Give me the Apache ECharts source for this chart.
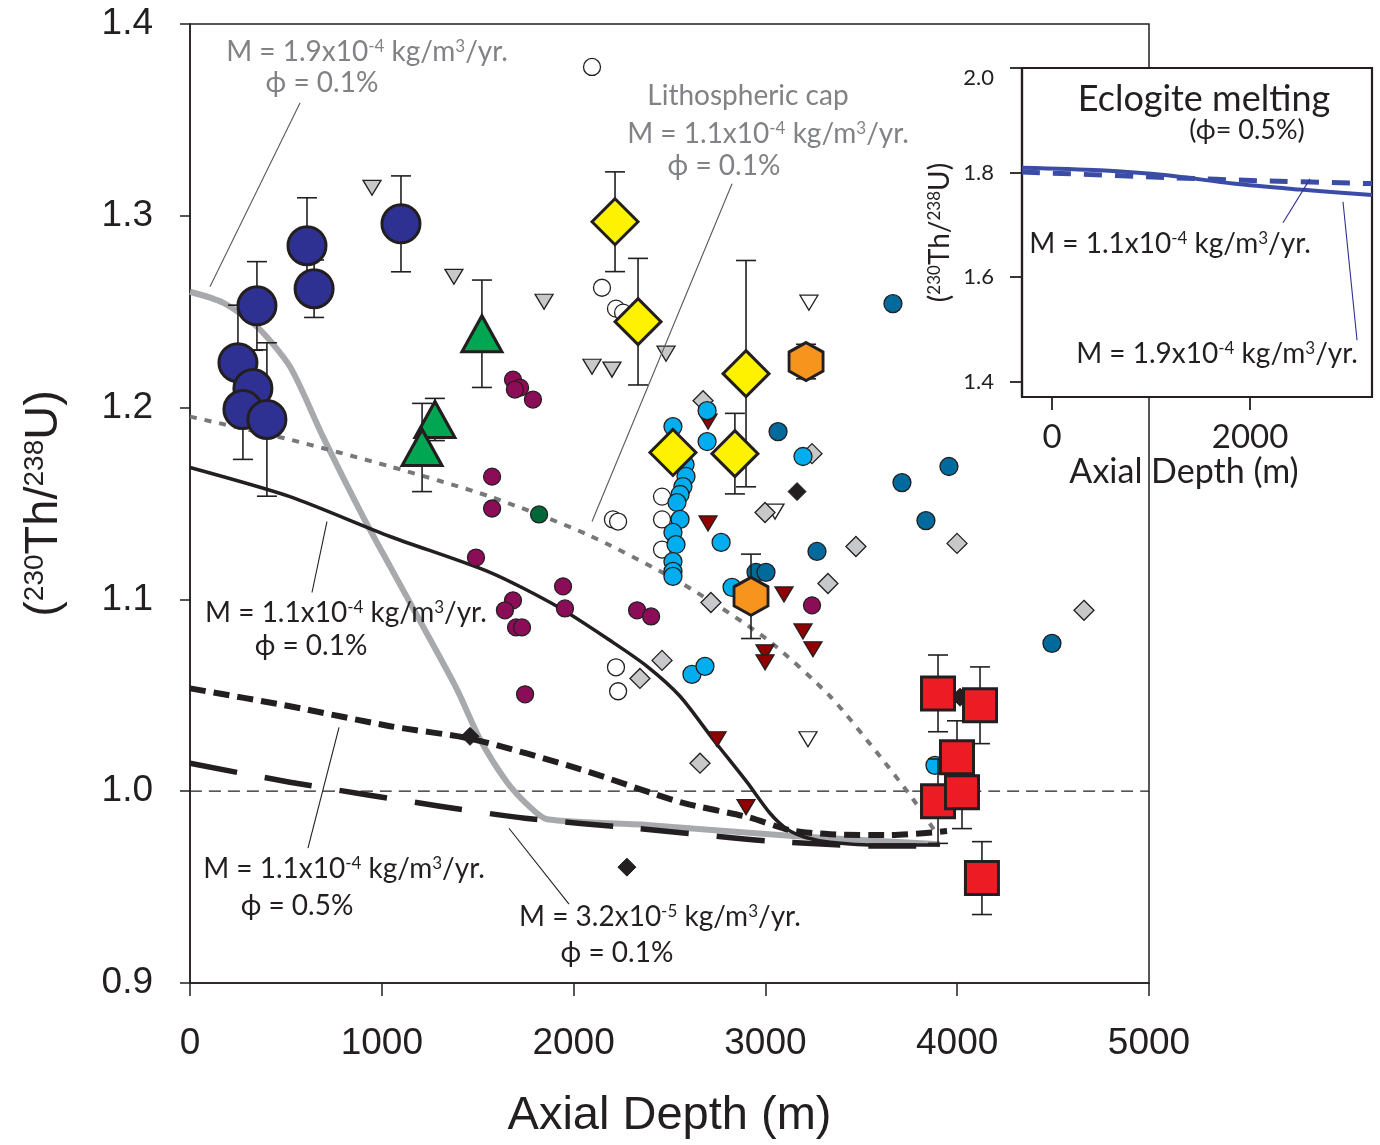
<!DOCTYPE html>
<html><head><meta charset="utf-8">
<script src="https://cdn.jsdelivr.net/npm/echarts@6/dist/echarts.min.js"></script>
<style>html,body{margin:0;padding:0;background:#fff}#c{width:1380px;height:1145px}</style>
</head><body><div id="c"></div>
<script>
// ---------- DATA ----------
const xTicksMain = [0, 1000, 2000, 3000, 4000, 5000];
const yTicksMain = [0.9, 1.0, 1.1, 1.2, 1.3, 1.4];
const xTicksInset = [0, 2000];
const yTicksInset = [1.4, 1.6, 1.8, 2.0];

// model curves [depth, ratio]
const curveM19p1 = [[0,1.2604],[172,1.2547],[349,1.2422],[521,1.2214],[693,1.1849],[902,1.1432],[1043,1.1172],[1215,1.0859],[1392,1.0531],[1512,1.0271],[1653,1.0047],[1773,0.9917],[1861,0.9854],[2398,0.9823],[3144,0.9766],[3910,0.9724]];
const curveLithCap = [[0,1.1953],[521,1.1833],[1043,1.1693],[1564,1.1536],[2070,1.1339],[2555,1.1089],[3008,1.0792],[3337,1.0495],[3597,1.0182],[3770,0.9958],[3884,0.9792]];
const curveM11p1 = [[0,1.1688],[521,1.1536],[1043,1.1328],[1564,1.1141],[1913,1.0964],[2205,1.0776],[2383,1.0651],[2555,1.0495],[2727,1.0271],[2904,1.0047],[3024,0.9885],[3113,0.9802],[3206,0.9760],[3337,0.9734],[3608,0.9719],[3910,0.9719]];
const curveM11p5 = [[0,1.0536],[521,1.0443],[1043,1.0339],[1475,1.0271],[2033,1.0115],[2555,0.9943],[2909,0.9865],[3128,0.9797],[3337,0.9776],[3650,0.9771],[3947,0.9792]];
const curveM32p1 = [[0,1.0146],[521,1.0047],[1303,0.9922],[1747,0.9859],[2325,0.9807],[3024,0.9740],[3608,0.9714],[3910,0.9714]];
const refLine = [[0,1.0],[5000,1.0]];

// inset curves
const insetSolid = [[-303,1.8095],[485,1.8046],[1162,1.7950],[1828,1.7790],[2505,1.7676],[3232,1.7570]];
const insetDashed = [[-303,1.8013],[1162,1.7905],[2150,1.7842],[3232,1.7790]];

// samples with errors [depth, ratio, err]
const blueCircles = [[349,1.2531,0.023],[610,1.2844,0.025],[647,1.2620,0.015],[1100,1.2958,0.025],[250,1.2234,0.030],[328,1.2099,0.020],[276,1.1990,0.026],[401,1.1938,0.040]];
const greenTriangles = [[1522,1.2385,0.028],[1277,1.1938,0.011],[1210,1.1792,0.023]];
const yellowDiamonds = [[2216,1.2969,0.026],[2336,1.2448,0.033],[2899,1.2177,0.059],[2518,1.1766,0],[2841,1.1760,0.021]];
const orangeHexagons = [[3212,1.2240,0.009],[2925,1.1016,0.022]];
const redSquares = [[3900,1.0510,0.020],[4119,1.0448,0.020],[3999,1.0177,0.019],[3900,0.9948,0.022],[4025,0.9995,0.019],[4129,0.9547,0.019]];

// small samples [depth, ratio]
const openCircles = [[2096,1.3776],[2148,1.2625],[2221,1.2516],[2258,1.2495],[2205,1.1417],[2232,1.1406],[2461,1.1536],[2461,1.1417],[2461,1.1260],[2221,1.0646],[2232,1.0521]];
const greyInvTriangles = [[949,1.3146],[1376,1.2682],[1846,1.2552],[2096,1.2213],[2200,1.2198],[2482,1.2281]];
const openInvTriangles = [[3227,1.2547],[3050,1.1458],[3222,1.0271]];
const greyDiamonds = [[2675,1.2036],[3243,1.1760],[2998,1.1453],[3472,1.1276],[3999,1.1292],[3326,1.1083],[2716,1.0984],[2461,1.0682],[2346,1.0588],[2659,1.0146],[4661,1.0943]];
const redInvTriangles = [[2701,1.1927],[2701,1.1396],[3097,1.1026],[3196,1.0833],[3248,1.0740],[2998,1.0724],[2998,1.0672],[2748,1.0271],[2899,0.9917]];
const purpleCircles = [[1684,1.2146],[1721,1.2104],[1694,1.2094],[1788,1.2042],[1575,1.1640],[1575,1.1474],[1491,1.1218],[1945,1.1068],[1955,1.0953],[1684,1.0995],[1642,1.0943],[1700,1.0854],[1731,1.0854],[1747,1.0505],[2331,1.0943],[2404,1.0911],[3243,1.0969]];
const darkGreenCircles = [[1820,1.1443]];
const tealCircles = [[3665,1.2542],[3066,1.1875],[3957,1.1693],[3712,1.1609],[3837,1.1411],[3269,1.1250],[2951,1.1141],[3003,1.1141],[4494,1.0771]];
const lightBlueCircles = [[2518,1.1901],[2696,1.1984],[2696,1.1823],[2581,1.1703],[2586,1.1641],[2570,1.1588],[2555,1.1547],[2539,1.1505],[2555,1.1417],[2518,1.1349],[2534,1.1286],[2518,1.1197],[2518,1.1146],[2518,1.1120],[2769,1.1297],[2826,1.1063],[3196,1.1745],[2617,1.0609],[2685,1.0651],[3884,1.0135]];
const blackDiamonds = [[3165,1.1562],[1460,1.0286],[2278,0.9604],[4015,1.0490]];

// annotations (text, anchor in data coords)
const mainAnnText = ['M = 1.9x10^{-4} kg/m^{3}/yr.','ϕ = 0.1%','Lithospheric cap','M = 1.1x10^{-4} kg/m^{3}/yr.','ϕ = 0.1%','M = 1.1x10^{-4} kg/m^{3}/yr.','ϕ = 0.1%','M = 1.1x10^{-4} kg/m^{3}/yr.','ϕ = 0.5%','M = 3.2x10^{-5} kg/m^{3}/yr.','ϕ = 0.1%'];
const mainAnnPos = [[923,1.3854],[688,1.3693],[2909,1.3625],[3014,1.3427],[2784,1.3260],[813,1.0927],[631,1.0755],[803,0.9594],[558,0.9401],[2450,0.9344],[2226,0.9156]];
const mainAnnGrey = [true,true,true,true,true,false,false,false,false,false,false];
const mainLeaders = [[[574,1.3589],[104,1.2630]],[[2826,1.3167],[2096,1.1406]],[[714,1.1406],[636,1.1036]],[[777,1.0333],[615,0.9703]],[[1663,0.9807],[1976,0.9411]]];
const mainLeaderGrey = [true,true,false,false,false];
const insetAnnText = ['Eclogite melting','(ϕ= 0.5%)','M = 1.1x10^{-4} kg/m^{3}/yr.','M = 1.9x10^{-4} kg/m^{3}/yr.'];
const insetAnnPos = [[1535,1.9404],[1970,1.8813],[1192,1.6642],[1667,1.4528]];
const insetAnnSize = [36,27,28,28];
const insetLeaders = [[[2606,1.7880],[2333,1.7042]],[[2939,1.7442],[3081,1.4796]]];

// ---------- CHART ----------
const INK = '#231f20';
const GREYTXT = '#808285';
const TICK_FONT = '"Liberation Sans", Arial, sans-serif';
const ANN_FONT = 'Lato, "Open Sans", sans-serif';
const INSET_BLUE = '#3b4ca6';

const chart = echarts.init(document.getElementById('c'));

function xy(arr){ return arr.map(d => [d[0], d[1]]); }
function withErr(){ const out=[]; [blueCircles,greenTriangles,yellowDiamonds,orangeHexagons,redSquares].forEach(a=>a.forEach(d=>{ if(d[2]>0) out.push(d); })); return out; }

function curve(data, color, width, type, z){
  return {type:'line', xAxisIndex:0, yAxisIndex:0, data:data, symbol:'none', smooth:0.25,
    lineStyle:{color:color, width:width, type:type, cap:'butt', join:'round'}, z:z||2, silent:true, animation:false};
}
function scat(data, symbol, size, color, bw, z, rot){
  return {type:'scatter', xAxisIndex:0, yAxisIndex:0, data:xy(data), symbol:symbol, symbolSize:size, symbolRotate:rot||0,
    itemStyle:{color:color, borderColor:INK, borderWidth:bw, opacity:1}, z:z, silent:true, animation:false};
}
const hexPath = 'path://M15,0 L30,9.5 L30,28.5 L15,38 L0,28.5 L0,9.5 Z';

const richAxis = (big, small) => ({
  n:{fontSize:big, fontFamily:TICK_FONT, color:INK},
  s:{fontSize:small, fontFamily:TICK_FONT, color:INK, verticalAlign:'top'}
});
const plain = v => String(Math.round(v));

const option = {
  animation:false,
  backgroundColor:'#fff',
  grid:[
    {left:190, top:24, width:959, height:960, show:true, borderColor:INK, borderWidth:1.5, backgroundColor:'transparent'},
    {left:1022, top:68, width:350, height:329, show:true, borderColor:INK, borderWidth:2.2, backgroundColor:'#fff', z:3}
  ],
  xAxis:[
    {gridIndex:0, type:'value', min:0, max:5000, interval:1000,
      axisLine:{show:true, onZero:false, lineStyle:{color:INK, width:1.5}},
      axisTick:{show:true, inside:false, length:13, lineStyle:{color:INK, width:1.5}},
      axisLabel:{fontSize:37, fontFamily:TICK_FONT, color:INK, margin:42, formatter:plain},
      splitLine:{show:false},
      name:'Axial Depth (m)', nameLocation:'middle', nameGap:110,
      nameTextStyle:{fontSize:47, fontFamily:TICK_FONT, color:INK}},
    {gridIndex:1, type:'value', min:-303, max:3232, z:10,
      axisLine:{show:true, onZero:false, lineStyle:{color:INK, width:2.2}},
      axisTick:{show:true, length:13, customValues:xTicksInset, lineStyle:{color:INK, width:1.8}},
      axisLabel:{customValues:xTicksInset, fontSize:33, fontFamily:ANN_FONT, color:INK, margin:24, formatter:plain},
      splitLine:{show:false},
      name:'Axial Depth (m)', nameLocation:'middle', nameGap:56,
      nameTextStyle:{fontSize:34, fontFamily:ANN_FONT, color:INK, padding:[0,26,0,0]}}
  ],
  yAxis:[
    {gridIndex:0, type:'value', min:0.9, max:1.4, interval:0.1,
      axisLine:{show:true, onZero:false, lineStyle:{color:INK, width:1.5}},
      axisTick:{show:true, inside:false, length:10, lineStyle:{color:INK, width:1.5}},
      axisLabel:{fontSize:37, fontFamily:TICK_FONT, color:INK, margin:37, formatter:v=>v.toFixed(1)},
      splitLine:{show:false},
      name:'{n|(}{s|230}{n|Th/}{s|238}{n|U)}', nameLocation:'middle', nameGap:122,
      nameTextStyle:{fontSize:47, fontFamily:TICK_FONT, color:INK, rich:richAxis(47,28)}},
    {gridIndex:1, type:'value', min:1.371, max:2.0, z:10,
      axisLine:{show:true, onZero:false, lineStyle:{color:INK, width:2.2}},
      axisTick:{show:true, length:12, customValues:yTicksInset, lineStyle:{color:INK, width:1.8}},
      axisLabel:{customValues:yTicksInset, fontSize:22, fontFamily:ANN_FONT, color:INK, margin:28,
        formatter:v=>(Math.abs(v-2)<1e-6 ? '{d|2.0}' : v.toFixed(1)),
        rich:{d:{fontSize:22, fontFamily:ANN_FONT, color:INK, padding:[20,0,0,0]}}},
      splitLine:{show:false},
      name:'{n|(}{s|230}{n|Th/}{s|238}{n|U)}', nameLocation:'middle', nameGap:68,
      nameTextStyle:{fontSize:28, fontFamily:ANN_FONT, color:INK,
        rich:{n:{fontSize:28, fontFamily:ANN_FONT, color:INK}, s:{fontSize:17, fontFamily:ANN_FONT, color:INK, verticalAlign:'top'}}}}
  ],
  series:[
    curve(refLine, INK, 1.2, [12,7], 2),
    curve(curveM19p1, '#a7a9ac', 6, 'solid', 2),
    curve(curveLithCap, '#77787b', 4, [7,8], 2),
    curve(curveM11p1, INK, 3.5, 'solid', 2),
    curve(curveM11p5, INK, 6, [16,8], 2),
    curve(curveM32p1, INK, 5.5, [48,28], 2),
    scat(openCircles, 'circle', 17, '#ffffff', 1.3, 3),
    scat(greyInvTriangles, 'triangle', [18,15], '#c7c8ca', 1.3, 3, 180),
    scat(openInvTriangles, 'triangle', [18,15], '#ffffff', 1.3, 3, 180),
    scat(greyDiamonds, 'diamond', [20,20], '#c7c8ca', 1.3, 3),
    scat(redInvTriangles, 'triangle', [18,15], '#900000', 1.3, 3, 180),
    scat(purpleCircles, 'circle', 17, '#8b0d57', 1.3, 3),
    scat(darkGreenCircles, 'circle', 17, '#006838', 1.3, 3),
    scat(tealCircles, 'circle', 18, '#006a9c', 1.3, 3),
    scat(lightBlueCircles, 'circle', 18, '#00aeef', 1.3, 3),
    scat(blackDiamonds, 'diamond', [18,18], INK, 1, 3),
    {type:'custom', xAxisIndex:0, yAxisIndex:0, z:4, silent:true, animation:false,
      data:withErr(), encode:{x:0, y:1},
      renderItem:(params, api)=>{
        const x=api.value(0), y=api.value(1), e=api.value(2);
        const t=api.coord([x,y+e]), b=api.coord([x,y-e]); const hw=10;
        const st={stroke:INK, lineWidth:1.6};
        return {type:'group', children:[
          {type:'line', shape:{x1:t[0],y1:t[1],x2:b[0],y2:b[1]}, style:st},
          {type:'line', shape:{x1:t[0]-hw,y1:t[1],x2:t[0]+hw,y2:t[1]}, style:st},
          {type:'line', shape:{x1:b[0]-hw,y1:b[1],x2:b[0]+hw,y2:b[1]}, style:st}
        ]};
      }},
    scat(blueCircles, 'circle', 38, '#2e3192', 3, 5),
    scat(greenTriangles, 'triangle', [40,36], '#00a651', 3, 5),
    scat(yellowDiamonds, 'diamond', [46,46], '#fff200', 3, 5),
    scat(orangeHexagons, hexPath, [34,38], '#f7941d', 3, 5),
    scat(redSquares, 'rect', [33,33], '#ed1c24', 3, 5),
    {type:'line', xAxisIndex:1, yAxisIndex:1, data:insetDashed, symbol:'none', smooth:0.3, z:10, clip:true,
      lineStyle:{color:INSET_BLUE, width:5, type:[18,13], cap:'butt'}, silent:true},
    {type:'line', xAxisIndex:1, yAxisIndex:1, data:insetSolid, symbol:'none', smooth:0.3, z:11, clip:true,
      lineStyle:{color:INSET_BLUE, width:4}, silent:true}
  ]
};
chart.setOption(option);

// ---------- annotations ----------
function toRich(t){
  return '{n|' + t.replace(/\^\{([^}]*)\}/g, '}{s|$1}{n|') + '}';
}
function richStyle(color, size){
  return {
    n:{fontSize:size, fontFamily:ANN_FONT, fill:color},
    s:{fontSize:Math.round(size*0.6), fontFamily:ANN_FONT, fill:color, verticalAlign:'top'}
  };
}
const g = [];
mainAnnText.forEach((t,i)=>{
  const p = chart.convertToPixel({gridIndex:0}, mainAnnPos[i]);
  const col = mainAnnGrey[i] ? GREYTXT : INK;
  g.push({type:'text', x:p[0], y:p[1], z:20, silent:true,
    style:{text:toRich(t), rich:richStyle(col,28), fill:col, font:'28px '+ANN_FONT, align:'center', verticalAlign:'middle'}});
});
mainLeaders.forEach((l,i)=>{
  const a = chart.convertToPixel({gridIndex:0}, l[0]), b = chart.convertToPixel({gridIndex:0}, l[1]);
  g.push({type:'line', z:20, silent:true, shape:{x1:a[0],y1:a[1],x2:b[0],y2:b[1]},
    style:{stroke: mainLeaderGrey[i] ? '#58595b' : INK, lineWidth:1.1}});
});
insetAnnText.forEach((t,i)=>{
  const p = chart.convertToPixel({gridIndex:1}, insetAnnPos[i]);
  const sz = insetAnnSize[i];
  g.push({type:'text', x:p[0], y:p[1], z:20, silent:true,
    style:{text:toRich(t), rich:richStyle(INK,sz), fill:INK, font:sz+'px '+ANN_FONT, align:'center', verticalAlign:'middle'}});
});
insetLeaders.forEach(l=>{
  const a = chart.convertToPixel({gridIndex:1}, l[0]), b = chart.convertToPixel({gridIndex:1}, l[1]);
  g.push({type:'line', z:20, silent:true, shape:{x1:a[0],y1:a[1],x2:b[0],y2:b[1]},
    style:{stroke:'#2e3192', lineWidth:1.1}});
});
chart.setOption({graphic:g});
</script>
</body></html>
